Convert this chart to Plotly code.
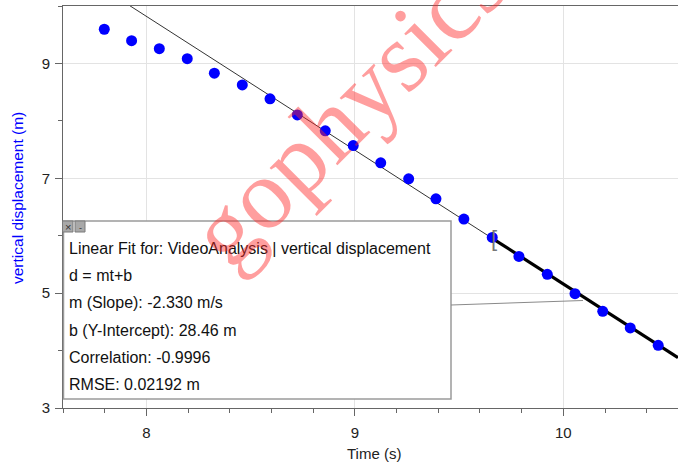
import numpy as np
import plotly.graph_objects as go

# ---- data ----
time_s = [7.798, 7.929, 8.062, 8.196, 8.326, 8.460, 8.593, 8.724, 8.858, 8.992,
          9.124, 9.258, 9.389, 9.523, 9.659, 9.787, 9.923, 10.056, 10.189, 10.321, 10.455]
disp_m = [9.595, 9.397, 9.257, 9.083, 8.830, 8.626, 8.383, 8.104, 7.826, 7.570,
          7.270, 6.991, 6.643, 6.290, 5.970, 5.640, 5.327, 4.991, 4.683, 4.395, 4.092]

slope = -2.330
intercept = 28.46
fit_start = 9.659   # start of selected fit range

x_range = [7.6, 10.55]
y_range = [3.0, 10.0]
x_ticks = [8, 9, 10]
y_ticks = [3, 5, 7, 9]

fit_lines = [
    "Linear Fit for: VideoAnalysis | vertical displacement",
    "d = mt+b",
    "m (Slope): -2.330 m/s",
    "b (Y-Intercept): 28.46 m",
    "Correlation: -0.9996",
    "RMSE: 0.02192 m",
]

# ---- layout geometry (pixels) ----
W, H = 678, 463
L, R, T, B = 63, 0, 6, 55
PW, PH = W - L - R, H - T - B


def px(xp):
    return (xp - L) / PW


def py(yp):
    return (H - B - yp) / PH


fig = go.Figure()

# full-range thin fit line
xf = np.array(x_range)
fig.add_trace(go.Scatter(x=xf, y=slope * xf + intercept, mode="lines",
                         line=dict(color="#333333", width=1), hoverinfo="skip",
                         showlegend=False))
# thick fit over selected range
xs = np.array([fit_start, x_range[1]])
fig.add_trace(go.Scatter(x=xs, y=slope * xs + intercept, mode="lines",
                         line=dict(color="black", width=3.2), hoverinfo="skip",
                         showlegend=False))
# data points
fig.add_trace(go.Scatter(x=time_s, y=disp_m, mode="markers",
                         marker=dict(color="#0000ff", size=11, line=dict(width=0)),
                         showlegend=False))

font_family = "Liberation Sans, Arial, Helvetica, sans-serif"

fig.update_layout(
    width=W, height=H,
    margin=dict(l=L, r=R, t=T, b=B, pad=0),
    paper_bgcolor="white", plot_bgcolor="white",
    font=dict(family=font_family, size=14, color="#222222"),
    xaxis=dict(range=x_range, tickvals=x_ticks, ticks="outside", ticklen=7,
               tickcolor="#666666", showline=True, linecolor="#666666", linewidth=1,
               mirror=True, showgrid=True, gridcolor="#e3e3e3", gridwidth=1,
               zeroline=False, tickfont=dict(size=15, color="#222222"),
               ticklabelstandoff=4,
               minor=dict(dtick=0.2, tick0=0, ticks="outside", ticklen=4,
                          tickcolor="#666666", showgrid=False)),
    yaxis=dict(range=y_range, tickvals=y_ticks, ticks="outside", ticklen=7,
               tickcolor="#666666", showline=True, linecolor="#666666", linewidth=1,
               showgrid=True, gridcolor="#e3e3e3", gridwidth=1, zeroline=False,
               tickfont=dict(size=15, color="#222222"), ticklabelstandoff=2,
               minor=dict(dtick=1, tick0=0, ticks="outside", ticklen=4,
                          tickcolor="#666666", showgrid=False)),
)

shapes = []
# fit info box
shapes.append(dict(type="rect", xref="paper", yref="paper",
                   x0=px(63.5), x1=px(451), y0=py(399), y1=py(221),
                   fillcolor="white", line=dict(color="#9a9a9a", width=1.5),
                   layer="above"))
# leader line from box to fit line
shapes.append(dict(type="line", xref="paper", yref="paper",
                   x0=px(451), y0=py(305), x1=px(583), y1=py(300.5),
                   line=dict(color="#8a8a8a", width=1), layer="above"))
# small window icons
for x0, x1 in [(62.5, 73), (75, 85)]:
    shapes.append(dict(type="rect", xref="paper", yref="paper",
                       x0=px(x0), x1=px(x1), y0=py(232), y1=py(221),
                       fillcolor="#a8a8a8", line=dict(color="#7a7a7a", width=1),
                       layer="above"))
fig.update_layout(shapes=shapes)

ann = []
line_y = [248, 275.5, 302.5, 330, 357, 384]
for txt, yy in zip(fit_lines, line_y):
    ann.append(dict(text=txt, xref="paper", yref="paper", x=px(67), y=py(yy),
                    xanchor="left", yanchor="middle", showarrow=False,
                    font=dict(size=16, color="#111111", family=font_family)))
# icon glyphs
ann.append(dict(text="×", xref="paper", yref="paper", x=px(67.7), y=py(226.5),
                xanchor="center", yanchor="middle", showarrow=False,
                font=dict(size=11, color="#333333")))
ann.append(dict(text="-", xref="paper", yref="paper", x=px(80), y=py(228),
                xanchor="center", yanchor="middle", showarrow=False,
                font=dict(size=9, color="#333333")))
# selection bracket
ann.append(dict(text="[", x=fit_start, y=slope * fit_start + intercept,
                xref="x", yref="y", xanchor="left", yanchor="middle",
                xshift=-3, showarrow=False,
                font=dict(size=22, color="#777777", family=font_family)))
# axis titles
ann.append(dict(text="Time (s)", xref="paper", yref="paper", x=px(374), y=py(453),
                xanchor="center", yanchor="middle", showarrow=False,
                font=dict(size=15, color="#222222")))
ann.append(dict(text="vertical displacement (m)", xref="paper", yref="paper",
                x=px(17), y=py(198), xanchor="center", yanchor="middle",
                textangle=-90, showarrow=False,
                font=dict(size=15.5, color="#0000ff")))
# watermark
ann.append(dict(text="gophysics", xref="paper", yref="paper", x=px(348), y=py(108),
                xanchor="center", yanchor="middle", textangle=-45, showarrow=False,
                font=dict(size=100, color="rgba(255,40,40,0.45)",
                          family="Liberation Serif, Times New Roman, serif")))
fig.update_layout(annotations=ann)

fig.write_html("out.html")
